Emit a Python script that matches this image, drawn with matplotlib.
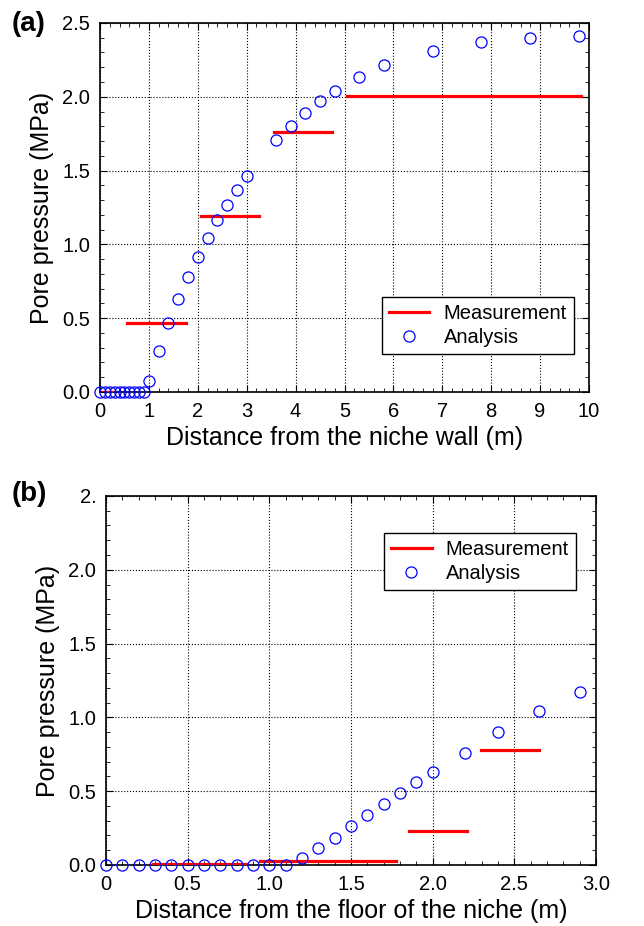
import matplotlib.pyplot as plt
from matplotlib.ticker import MultipleLocator

plt.rcParams['font.family'] = ['Liberation Sans', 'DejaVu Sans']

# (a) distance from the niche wall
a_x = [0, 0.1, 0.2, 0.3, 0.4, 0.5, 0.6, 0.7, 0.8, 0.9, 1.0, 1.2, 1.4, 1.6, 1.8,
       2.0, 2.2, 2.4, 2.6, 2.8, 3.0, 3.6, 3.9, 4.2, 4.5, 4.8, 5.3, 5.8, 6.8,
       7.8, 8.8, 9.8]
a_y = [0, 0, 0, 0, 0, 0, 0, 0, 0, 0, 0.072, 0.276, 0.465, 0.63, 0.782,
       0.917, 1.044, 1.164, 1.268, 1.369, 1.464, 1.706, 1.805, 1.893, 1.970,
       2.042, 2.137, 2.214, 2.311, 2.368, 2.399, 2.413]
a_meas_x0 = [0.07, 0.56, 2.07, 3.56, 5.05]
a_meas_x1 = [0.24, 1.76, 3.25, 4.75, 9.83]
a_meas_y = [0.0, 0.465, 1.19, 1.76, 2.004]

# (b) distance from the floor of the niche
b_x = [0, 0.1, 0.2, 0.3, 0.4, 0.5, 0.6, 0.7, 0.8, 0.9, 1.0, 1.1, 1.2, 1.3,
       1.4, 1.5, 1.6, 1.7, 1.8, 1.9, 2.0, 2.2, 2.4, 2.65, 2.9]
b_y = [0, 0, 0, 0, 0, 0, 0, 0, 0, 0, 0, 0, 0.05, 0.113, 0.183, 0.262, 0.336,
       0.415, 0.487, 0.56, 0.63, 0.756, 0.90, 1.04, 1.171]
b_meas_x0 = [0.29, 0.943, 1.854, 2.293]
b_meas_x1 = [0.856, 1.775, 2.21, 2.649]
b_meas_y = [0.01, 0.03, 0.228, 0.78]

fig = plt.figure(figsize=(6.44, 9.26), dpi=100)
ax1 = fig.add_axes([0.1553, 0.5767, 0.7593, 0.3985])
ax2 = fig.add_axes([0.1646, 0.0659, 0.7609, 0.3985])


def style(ax, xmax, xmajor, xminor):
    ax.set_xlim(0, xmax)
    ax.set_ylim(0, 2.5)
    ax.xaxis.set_major_locator(MultipleLocator(xmajor))
    ax.xaxis.set_minor_locator(MultipleLocator(xminor))
    ax.yaxis.set_major_locator(MultipleLocator(0.5))
    ax.yaxis.set_minor_locator(MultipleLocator(0.1))
    ax.tick_params(which='both', direction='in', top=True, right=True,
                   labelsize=14.5, pad=7)
    ax.tick_params(which='major', length=5)
    ax.tick_params(which='minor', length=3)
    ax.grid(True, which='major', color='black', linestyle=':', linewidth=0.8)
    for s in ax.spines.values():
        s.set_linewidth(1.2)
    ax.set_ylabel('Pore pressure (MPa)', fontsize=18, labelpad=6)


def legend(ax, loc, anchor):
    leg = ax.legend(loc=loc, bbox_to_anchor=anchor, fontsize=14.5,
                    fancybox=False, framealpha=1, edgecolor='black',
                    handlelength=2.0, handletextpad=0.7, borderpad=0.35,
                    labelspacing=0.25, borderaxespad=0)
    leg.get_frame().set_linewidth(1.0)


for i in range(len(a_meas_y)):
    ax1.plot([a_meas_x0[i], a_meas_x1[i]], [a_meas_y[i], a_meas_y[i]],
             color='red', linewidth=2.3, label='Measurement' if i == 0 else None,
             zorder=3)
ax1.plot(a_x, a_y, 'o', mfc='none', mec='blue', ms=8, mew=0.9,
         label='Analysis', clip_on=False, zorder=4)
style(ax1, 10, 1, 0.2)
ax1.set_xticks(range(0, 11))
ax1.set_yticks([0, 0.5, 1.0, 1.5, 2.0, 2.5])
ax1.set_yticklabels(['0.0', '0.5', '1.0', '1.5', '2.0', '2.5'])
ax1.set_xlabel('Distance from the niche wall (m)', fontsize=18, labelpad=4)
legend(ax1, 'lower right', (0.969, 0.103))
fig.text(0.018, 0.974, '(a)', fontsize=20, fontweight='bold', va='center')

for i in range(len(b_meas_y)):
    ax2.plot([b_meas_x0[i], b_meas_x1[i]], [b_meas_y[i], b_meas_y[i]],
             color='red', linewidth=2.3, label='Measurement' if i == 0 else None,
             zorder=3)
ax2.plot(b_x, b_y, 'o', mfc='none', mec='blue', ms=8, mew=0.9,
         label='Analysis', clip_on=False, zorder=4)
style(ax2, 3.0, 0.5, 0.1)
ax2.set_xticks([0, 0.5, 1.0, 1.5, 2.0, 2.5, 3.0])
ax2.set_xticklabels(['0', '0.5', '1.0', '1.5', '2.0', '2.5', '3.0'])
ax2.set_yticks([0, 0.5, 1.0, 1.5, 2.0, 2.5])
ax2.set_yticklabels(['0.0', '0.5', '1.0', '1.5', '2.0', '2.'])
ax2.set_xlabel('Distance from the floor of the niche (m)', fontsize=18,
               labelpad=4)
legend(ax2, 'upper right', (0.959, 0.900))
fig.text(0.018, 0.4665, '(b)', fontsize=20, fontweight='bold', va='center')

fig.savefig('out.png', dpi=100)
